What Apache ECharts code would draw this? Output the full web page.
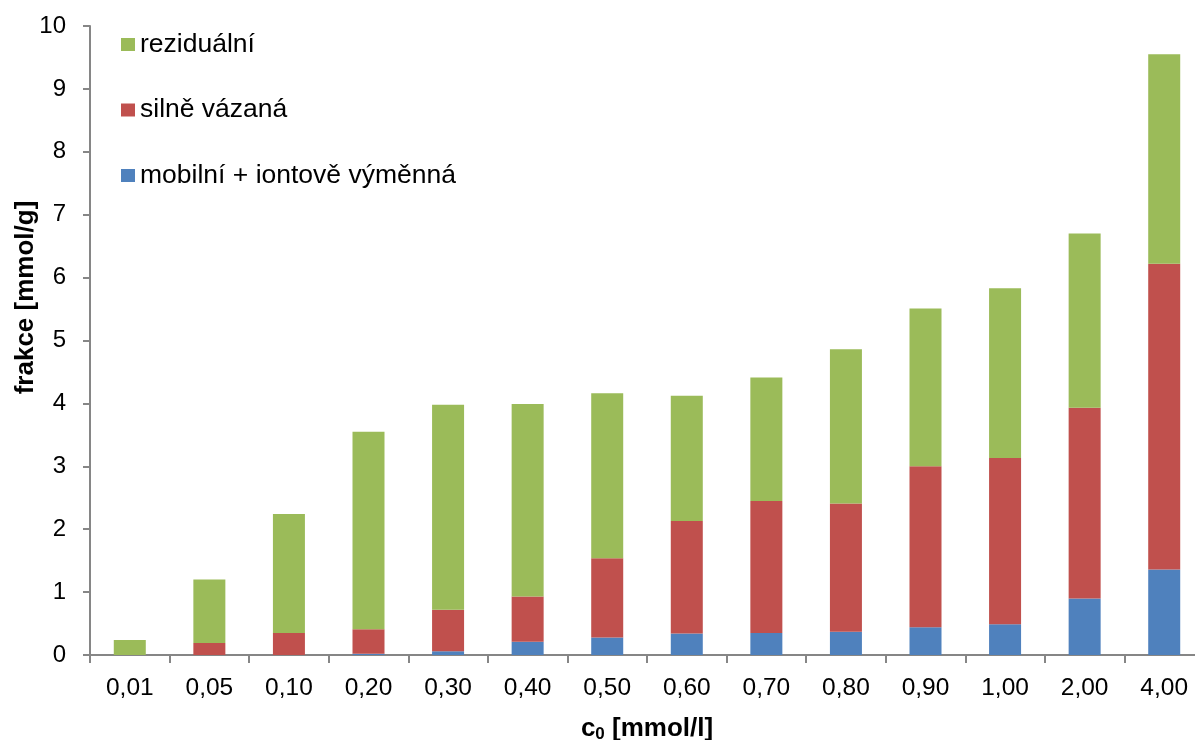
<!DOCTYPE html>
<html>
<head>
<meta charset="utf-8">
<script src="https://cdn.jsdelivr.net/npm/echarts@6/dist/echarts.min.js"></script>
<style>
html,body{margin:0;padding:0;background:#fff;}
#chart{width:1195px;height:740px;}
</style>
</head>
<body>
<div id="chart"></div>
<script>
const categories = ['0,01','0,05','0,10','0,20','0,30','0,40','0,50','0,60','0,70','0,80','0,90','1,00','2,00','4,00'];
const mobilni = [0, 0, 0, 0.02, 0.06, 0.21, 0.28, 0.34, 0.35, 0.37, 0.44, 0.49, 0.90, 1.36];
const silne = [0, 0.19, 0.35, 0.39, 0.66, 0.72, 1.26, 1.79, 2.10, 2.04, 2.56, 2.64, 3.03, 4.86];
const rezidualni = [0.24, 1.01, 1.89, 3.14, 3.26, 3.06, 2.62, 1.99, 1.96, 2.45, 2.51, 2.70, 2.77, 3.33];
const yTicks = { min: 0, max: 10, interval: 1 };

const FONT = '"Liberation Sans", Arial, Helvetica, sans-serif';
const chart = echarts.init(document.getElementById('chart'), null, { renderer: 'canvas' });
const axisGray = '#868686';

chart.setOption({
  animation: false,
  backgroundColor: '#ffffff',
  textStyle: { fontFamily: FONT, color: '#000' },
  grid: { left: 90, top: 26, bottom: 85, right: -9, containLabel: false, outerBoundsMode: 'none' },
  legend: {
    orient: 'vertical',
    left: 121,
    top: 31,
    padding: 0,
    itemWidth: 14,
    itemHeight: 13,
    itemGap: 38.5,
    icon: 'rect',
    data: ['reziduální', 'silně vázaná', 'mobilní + iontově výměnná'],
    textStyle: { fontFamily: FONT, fontSize: 26.5, color: '#000' }
  },
  xAxis: {
    type: 'category',
    data: categories,
    axisLine: { lineStyle: { color: axisGray, width: 2 } },
    axisTick: { show: true, length: 8, lineStyle: { color: axisGray, width: 2 } },
    axisLabel: { fontFamily: FONT, fontSize: 24.5, color: '#000', margin: 21, interval: 0 },
    name: '{c|c}{s|0}{c| [mmol/l]}',
    nameLocation: 'middle',
    nameGap: 59,
    nameMoveOverlap: false,
    nameTextStyle: {
      rich: {
        c: { fontFamily: FONT, fontSize: 26, fontWeight: 'bold', color: '#000' },
        s: { fontFamily: FONT, fontSize: 17, fontWeight: 'bold', color: '#000', padding: [12, 0, 0, 0] }
      }
    }
  },
  yAxis: {
    type: 'value',
    min: yTicks.min,
    max: yTicks.max,
    interval: yTicks.interval,
    splitLine: { show: false },
    axisLine: { show: true, lineStyle: { color: axisGray, width: 2 } },
    axisTick: { show: true, length: 7, lineStyle: { color: axisGray, width: 2 } },
    axisLabel: { fontFamily: FONT, fontSize: 24, color: '#000', margin: 24 },
    name: 'frakce [mmol/g]',
    nameLocation: 'middle',
    nameGap: 51,
    nameRotate: 90,
    nameMoveOverlap: false,
    nameTextStyle: { fontFamily: FONT, fontSize: 26, fontWeight: 'bold', color: '#000', padding: [0, 0, 0, 86] }
  },
  series: [
    { name: 'mobilní + iontově výměnná', type: 'bar', stack: 'a', data: mobilni, barWidth: 32, itemStyle: { color: '#4F81BD' } },
    { name: 'silně vázaná', type: 'bar', stack: 'a', data: silne, barWidth: 32, itemStyle: { color: '#C0504D' } },
    { name: 'reziduální', type: 'bar', stack: 'a', data: rezidualni, barWidth: 32, itemStyle: { color: '#9BBB59' } }
  ]
});
</script>
</body>
</html>
